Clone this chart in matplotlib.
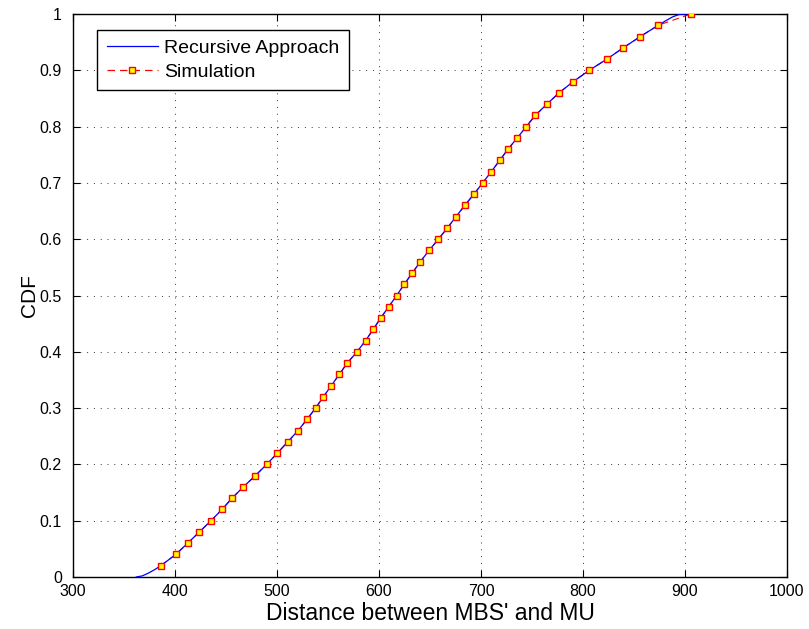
import matplotlib
matplotlib.use("Agg")
import matplotlib.pyplot as plt

plt.rcParams['font.family'] = ['Liberation Sans', 'DejaVu Sans']

# Simulated CDF samples (distance, CDF level)
sim_distance = [386.0, 400.7, 412.4, 423.9, 435.3, 446.1, 455.9, 467.0, 478.7, 489.9,
                500.3, 510.5, 520.6, 529.4, 537.8, 545.4, 553.3, 561.1, 568.9, 578.4,
                586.9, 594.4, 601.6, 609.5, 617.3, 624.8, 632.6, 640.5, 649.0, 658.2,
                667.0, 675.5, 684.0, 693.1, 701.6, 710.1, 718.3, 726.5, 735.6, 744.4,
                753.2, 764.7, 776.5, 790.5, 806.2, 823.5, 839.5, 856.2, 873.8, 905.6]
sim_cdf = [0.02, 0.04, 0.06, 0.08, 0.10, 0.12, 0.14, 0.16, 0.18, 0.20,
           0.22, 0.24, 0.26, 0.28, 0.30, 0.32, 0.34, 0.36, 0.38, 0.40,
           0.42, 0.44, 0.46, 0.48, 0.50, 0.52, 0.54, 0.56, 0.58, 0.60,
           0.62, 0.64, 0.66, 0.68, 0.70, 0.72, 0.74, 0.76, 0.78, 0.80,
           0.82, 0.84, 0.86, 0.88, 0.90, 0.92, 0.94, 0.96, 0.98, 1.00]

# Analytical (recursive) CDF curve
rec_distance = [362.0, 368.0, 374.0, 380.0, 386.0, 400.7, 412.4, 423.9, 435.3, 446.1,
                455.9, 467.0, 478.7, 489.9, 500.3, 510.5, 520.6, 529.4, 537.8, 545.4,
                553.3, 561.1, 568.9, 578.4, 586.9, 594.4, 601.6, 609.5, 617.3, 624.8,
                632.6, 640.5, 649.0, 658.2, 667.0, 675.5, 684.0, 693.1, 701.6, 710.1,
                718.3, 726.5, 735.6, 744.4, 753.2, 764.7, 776.5, 790.5, 806.2, 823.5,
                839.5, 856.2, 873.8, 882.0, 888.0, 894.0, 900.0, 905.6]
rec_cdf = [0.000, 0.002, 0.007, 0.013, 0.020, 0.04, 0.06, 0.08, 0.10, 0.12,
           0.14, 0.16, 0.18, 0.20, 0.22, 0.24, 0.26, 0.28, 0.30, 0.32,
           0.34, 0.36, 0.38, 0.40, 0.42, 0.44, 0.46, 0.48, 0.50, 0.52,
           0.54, 0.56, 0.58, 0.60, 0.62, 0.64, 0.66, 0.68, 0.70, 0.72,
           0.74, 0.76, 0.78, 0.80, 0.82, 0.84, 0.86, 0.88, 0.90, 0.92,
           0.94, 0.96, 0.98, 0.989, 0.995, 0.999, 1.000, 1.000]

x_ticks = [300, 400, 500, 600, 700, 800, 900, 1000]
y_ticks = [0, 0.1, 0.2, 0.3, 0.4, 0.5, 0.6, 0.7, 0.8, 0.9, 1]
y_tick_labels = ['0', '0.1', '0.2', '0.3', '0.4', '0.5', '0.6', '0.7', '0.8', '0.9', '1']

fig = plt.figure(figsize=(8.09, 6.29), dpi=100)
ax = fig.add_axes([73 / 809, 52 / 629, 714 / 809, 563 / 629])

ax.plot(sim_distance, sim_cdf, color='red', linestyle=(0, (6, 4)), linewidth=0.8,
        zorder=2)
ax.plot(rec_distance, rec_cdf, color=(0, 0, 1), linewidth=0.9,
        label='Recursive Approach', zorder=3)
ax.plot(sim_distance, sim_cdf, color='red', linestyle=(0, (6, 4)), linewidth=0.8,
        marker='s', markersize=4.2, markerfacecolor='yellow',
        markeredgecolor='red', markeredgewidth=1.0,
        label='Simulation', zorder=4, alpha=1.0)[0].set_linestyle('none')

# legend proxy carrying both the dashed line and the square marker
from matplotlib.lines import Line2D
handles = [Line2D([], [], color=(0, 0, 1), linewidth=0.9),
           Line2D([], [], color='red', linestyle=(0, (6, 4)), linewidth=0.9,
                  marker='s', markersize=4.2, markerfacecolor='yellow',
                  markeredgecolor='red', markeredgewidth=1.0)]
labels = ['Recursive Approach', 'Simulation']

ax.set_xlim(300, 1000)
ax.set_ylim(0, 1)
ax.set_xticks(x_ticks)
ax.set_yticks(y_ticks)
ax.set_yticklabels(y_tick_labels)

ax.grid(True, linestyle=(0, (1, 6)), color='black', linewidth=0.7, alpha=0.8)
ax.tick_params(direction='in', length=5, width=0.8, top=True, right=True,
               labelsize=11.5, colors='black')
ax.tick_params(axis='x', pad=5)
ax.tick_params(axis='y', pad=8)
for spine in ax.spines.values():
    spine.set_linewidth(1.0)
    spine.set_color('black')

ax.set_xlabel("Distance between MBS' and MU", fontsize=16.5, labelpad=2)
ax.set_ylabel('CDF', fontsize=15, labelpad=0.5)

leg = ax.legend(handles, labels, loc='upper left', bbox_to_anchor=(0.034, 0.972),
                fontsize=14, fancybox=False, framealpha=1, edgecolor='black',
                handlelength=2.6, handletextpad=0.35, borderpad=0.5,
                labelspacing=0.3, borderaxespad=0.0)
leg.get_frame().set_linewidth(1.0)

fig.savefig('out.png', dpi=100)
